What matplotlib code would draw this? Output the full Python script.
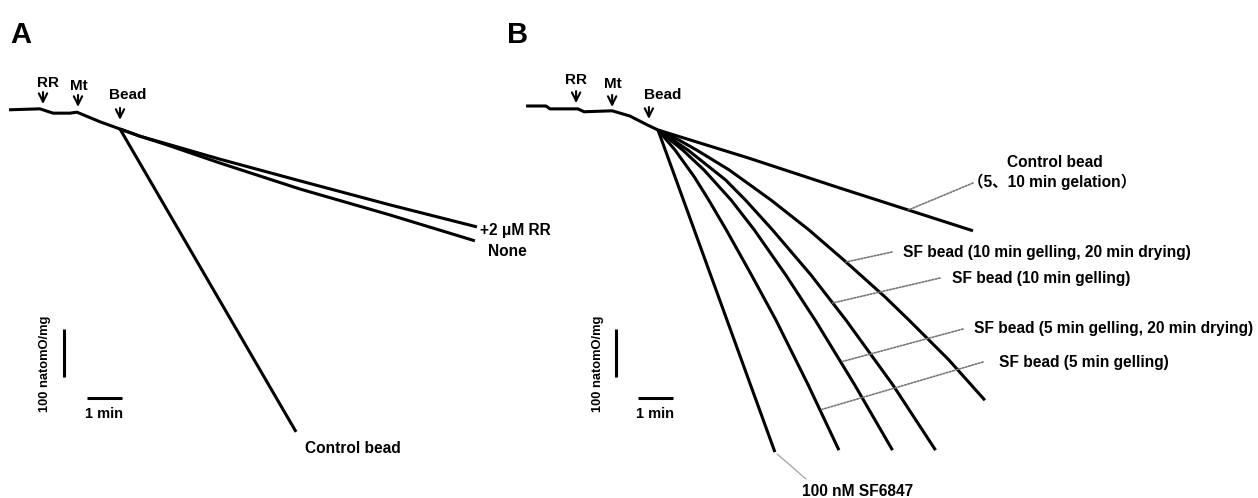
import numpy as np
import matplotlib.pyplot as plt

plt.rcParams['font.family'] = ['Liberation Sans', 'Noto Sans CJK JP', 'DejaVu Sans']
plt.rcParams['font.weight'] = 'bold'

W, H = 1258, 498
PX_MIN = 35.0   # px per minute
PX_O = 0.48     # px per natomO/mg

# ---- panel A: time (min, bead added at 0) / O2 level (natomO/mg, 0 at bead addition)
a_base_t = [-3.17, -2.29, -1.91, -1.43, -1.23, -0.57, 0]
a_base_o = [40, 42, 33, 33, 35, 15, 0]
a_ctrl_t = [0, 5.03]
a_ctrl_o = [0, -631]
a_rr_t = [0, 0.57, 1.34, 2.86, 5.14, 7.71, 10.2]
a_rr_o = [0, -15, -31, -63, -108, -158, -204]
a_none_t = [0, 0.57, 1.34, 2.86, 5.14, 7.71, 10.14]
a_none_o = [0, -15, -33, -71, -125, -179, -233]
a_add_names = ['RR', 'Mt', 'Bead']
a_add_t = [-2.2, -1.2, 0]
a_add_o = [52, 46, 19]

# ---- panel B
b_base_t = [-3.77, -3.2, -3.09, -2.29, -2.11, -1.31, -0.8, -0.29, 0]
b_base_o = [50, 50, 44, 44, 38, 40, 29, 10, 0]
b_ctrl_t = [0, 2.57, 5.2, 9.0]
b_ctrl_o = [0, -58, -121, -210]
b_sf6847_t = [0, 3.34]
b_sf6847_o = [0, -671]
b_sf5_t = [0, 0.49, 1.04, 1.45, 1.95, 2.67, 3.37, 4.29, 5.17]
b_sf5_o = [0, -42, -98, -146, -208, -302, -396, -531, -667]
b_sf5d_t = [0, 0.71, 1.31, 2.09, 2.75, 3.65, 4.49, 5.62, 6.7]
b_sf5d_o = [0, -42, -83, -146, -208, -302, -396, -531, -667]
b_sf10_t = [0, 0.86, 1.93, 2.5, 3.27, 4.37, 5.37, 6.71, 7.93]
b_sf10_o = [0, -42, -104, -146, -208, -302, -396, -531, -667]
b_sf10d_t = [0, 0.6, 1.11, 2.03, 3.23, 4.31, 5.31, 6.49, 7.17, 8.31, 9.34]
b_sf10d_o = [0, -21, -42, -83, -146, -208, -271, -348, -396, -479, -563]
b_add_names = ['RR', 'Mt', 'Bead']
b_add_t = [-2.34, -1.31, -0.26]
b_add_o = [56, 48, 23]


def fpx(x, y):
    return x / W, 1 - y / H


fig = plt.figure(figsize=(W / 100, H / 100), dpi=100)
axA = fig.add_axes([0, 0, 500 / W, 1])
axA.set_xlim(-120 / PX_MIN, 380 / PX_MIN)
axA.set_ylim(-(H - 129) / PX_O, 129 / PX_O)
axB = fig.add_axes([500 / W, 0, 758 / W, 1])
axB.set_xlim(-158 / PX_MIN, 600 / PX_MIN)
axB.set_ylim(-(H - 130) / PX_O, 130 / PX_O)
for ax in (axA, axB):
    ax.axis('off')

kw = dict(color='black', lw=2.2, solid_joinstyle='round', solid_capstyle='butt')

# traces A
axA.plot(a_base_t + a_rr_t[1:], a_base_o + a_rr_o[1:], **kw)
axA.plot(a_none_t, a_none_o, **kw)
axA.plot(a_ctrl_t, a_ctrl_o, **kw)

# traces B
axB.plot(b_base_t + b_ctrl_t[1:], b_base_o + b_ctrl_o[1:], **kw)
for t, o in [(b_sf6847_t, b_sf6847_o), (b_sf5_t, b_sf5_o), (b_sf5d_t, b_sf5d_o),
             (b_sf10_t, b_sf10_o), (b_sf10d_t, b_sf10d_o)]:
    axB.plot(t, o, **kw)

# addition arrows
def arrows(ax, names, ts, os_, offs):
    for name, t, o, (dx, dy) in zip(names, ts, os_, offs):
        ax.annotate('', xy=(t, o), xytext=(0, 12), textcoords='offset pixels',
                    arrowprops=dict(arrowstyle='->', lw=1.5, color='black',
                                    shrinkA=0, shrinkB=0, mutation_scale=15))
        ax.annotate(name, xy=(t, o), xytext=(dx, dy), textcoords='offset pixels',
                    ha='center', va='baseline', fontsize=11)

arrows(axA, a_add_names, a_add_t, a_add_o, [(5, 17), (1, 17), (8, 21)])
arrows(axB, b_add_names, b_add_t, b_add_o, [(0, 19), (1, 19), (14, 20)])

# scale bars
bar_o = [0, 100]
bar_t = [0, 1]
axA.plot([-1.6, -1.6], [-416.7 - v for v in bar_o], color='black', lw=2.2, solid_capstyle='butt')
axA.plot([-0.943 + v for v in bar_t], [-560.4, -560.4], color='black', lw=2.2, solid_capstyle='butt')
axB.plot([-1.2, -1.2], [-414.6 - v for v in bar_o], color='black', lw=2.2, solid_capstyle='butt')
axB.plot([-0.571 + v for v in bar_t], [-558.3, -558.3], color='black', lw=2.2, solid_capstyle='butt')

for x in (45, 598):
    fig.text(*fpx(x, 364), '100 natomO/mg', rotation=90, ha='center', va='center', fontsize=9.3)
for x in (104, 655):
    fig.text(*fpx(x, 414), '1 min', ha='center', va='center', fontsize=10.5)

# panel letters
fig.text(*fpx(10, 35), 'A', fontsize=21, ha='left', va='center')
fig.text(*fpx(507, 35), 'B', fontsize=21, ha='left', va='center')

# labels A
fs = 11.2
fig.text(*fpx(305, 448), 'Control bead', fontsize=fs, va='center')
fig.text(*fpx(480, 231), '+2 μM RR', fontsize=fs, va='center')
fig.text(*fpx(488, 251), 'None', fontsize=fs, va='center')

# labels B
fig.text(*fpx(1007, 162), 'Control bead', fontsize=fs, va='center')
fig.text(*fpx(968, 182), '（5、10 min gelation）', fontsize=fs, va='center')
fig.text(*fpx(903, 253), 'SF bead (10 min gelling, 20 min drying)', fontsize=fs, va='center')
fig.text(*fpx(952, 278), 'SF bead (10 min gelling)', fontsize=fs, va='center')
fig.text(*fpx(974, 329), 'SF bead (5 min gelling, 20 min drying)', fontsize=fs, va='center')
fig.text(*fpx(999, 362), 'SF bead (5 min gelling)', fontsize=fs, va='center')
fig.text(*fpx(802, 491), '100 nM SF6847', fontsize=fs, va='center')

# leader lines
def on_curve(t, o, level):
    return np.interp(level, o[::-1], t[::-1]), level

dot = dict(arrowstyle='-', color='#777777', lw=1.2, linestyle=(0, (1, 1)), shrinkA=0, shrinkB=0)
leaders = [
    (b_ctrl_t, b_ctrl_o, -166.7, (973, 183)),
    (b_sf10d_t, b_sf10d_o, -275.0, (892, 252)),
    (b_sf10_t, b_sf10_o, -360.4, (940, 278)),
    (b_sf5d_t, b_sf5d_o, -483.3, (963, 329)),
    (b_sf5_t, b_sf5_o, -583.3, (983, 362)),
]
for t, o, lev, (x, y) in leaders:
    axB.annotate('', xy=on_curve(t, o, lev), xytext=(x, H - y), textcoords='figure pixels',
                 arrowprops=dot)
axB.annotate('', xy=(b_sf6847_t[-1], b_sf6847_o[-1]), xytext=(806, H - 479),
             textcoords='figure pixels',
             arrowprops=dict(arrowstyle='-', color='#999999', lw=0.8, shrinkA=0, shrinkB=2))

fig.savefig('out.png', dpi=100)
